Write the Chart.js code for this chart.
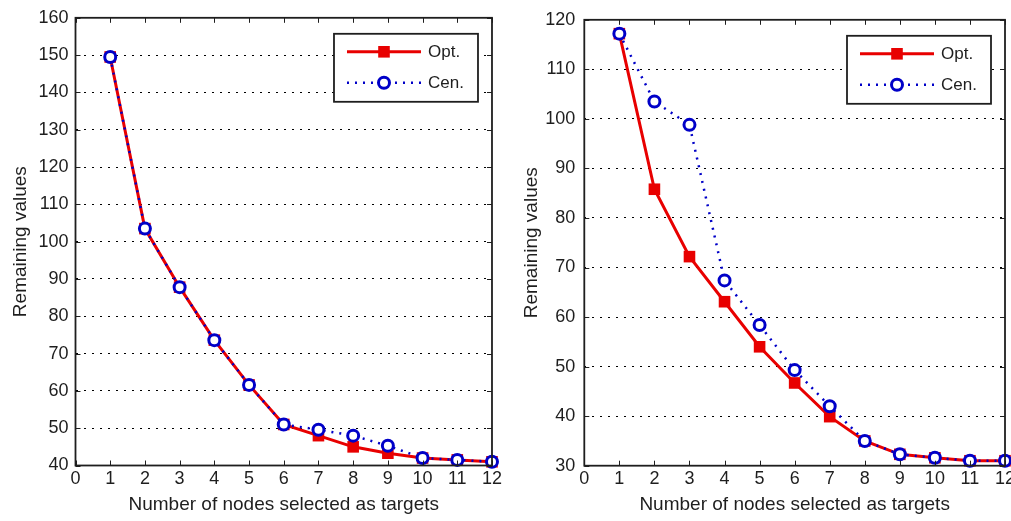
<!DOCTYPE html>
<html>
<head>
<meta charset="utf-8">
<script src="https://cdn.jsdelivr.net/npm/chart.js@4"></script>
<style>
  html, body { margin: 0; padding: 0; background: #fff; }
  #wrap { position: relative; width: 1011px; height: 521px; overflow: hidden; }
  canvas { position: absolute; top: 0; }
</style>
</head>
<body>
<div id="wrap">
  <canvas id="left" width="505" height="521" style="left:0"></canvas>
  <canvas id="right" width="536" height="521" style="left:505px"></canvas>
</div>
<script>
// nodes selected as targets
const nodes = [1, 2, 3, 4, 5, 6, 7, 8, 9, 10, 11, 12];

// left panel
const leftOpt = [149.5, 103.5, 87.8, 73.6, 61.6, 51, 48, 45, 43.3, 42, 41.5, 41];
const leftCen = [149.5, 103.5, 87.8, 73.6, 61.6, 51, 49.6, 48, 45.3, 42, 41.5, 41];

// right panel
const rightOpt = [117.2, 85.8, 72.2, 63.1, 54, 46.7, 39.9, 35, 32.3, 31.6, 31, 31];
const rightCen = [117.2, 103.5, 98.8, 67.4, 58.4, 49.3, 42, 35, 32.3, 31.6, 31, 31];

const seriesNames = ['Opt.', 'Cen.'];
const xTitle = 'Number of nodes selected as targets';
const yTitle = 'Remaining values';

const RED = '#e80000';
const BLUE = '#0000c8';
const INK = '#1e1e1e';
const FONT = 'Liberation Sans, Arial, sans-serif';

const toPoints = (ys) => nodes.map((x, i) => ({ x: x, y: ys[i] }));

// box around the axes + inward ticks, like matlab
const framePlugin = {
  id: 'frame',
  afterDraw(chart) {
    const { ctx, chartArea: a, scales } = chart;
    ctx.save();
    ctx.strokeStyle = INK;
    ctx.lineWidth = 1;
    ctx.beginPath();
    scales.x.ticks.forEach(t => {
      const px = Math.round(scales.x.getPixelForValue(t.value)) + 0.5;
      ctx.moveTo(px, a.bottom); ctx.lineTo(px, a.bottom - 5);
      ctx.moveTo(px, a.top); ctx.lineTo(px, a.top + 5);
    });
    scales.y.ticks.forEach(t => {
      const py = Math.round(scales.y.getPixelForValue(t.value)) + 0.5;
      ctx.moveTo(a.left, py); ctx.lineTo(a.left + 5, py);
      ctx.moveTo(a.right, py); ctx.lineTo(a.right - 5, py);
    });
    ctx.stroke();
    ctx.lineWidth = 1.8;
    ctx.strokeRect(a.left, a.top, a.right - a.left, a.bottom - a.top);
    ctx.restore();
  }
};

// legend box in the top right corner
const legendPlugin = {
  id: 'boxLegend',
  afterDraw(chart) {
    const { ctx, chartArea: a } = chart;
    const w = 144, h = 68;
    const bx = a.right - 14 - w, by = a.top + 16;
    ctx.save();
    ctx.fillStyle = '#fff';
    ctx.fillRect(bx, by, w, h);
    ctx.strokeStyle = INK;
    ctx.lineWidth = 1.8;
    ctx.strokeRect(bx, by, w, h);

    const rows = [by + 18, by + 49];
    const ds = chart.data.datasets;
    // legend order: Opt first, Cen second
    const byName = seriesNames.map(n => ds.find(d => d.label === n));
    byName.forEach((d, i) => {
      const y = rows[i];
      ctx.beginPath();
      ctx.strokeStyle = d.borderColor;
      ctx.lineWidth = d.borderWidth;
      ctx.setLineDash(d.borderDash || []);
      ctx.moveTo(bx + 13, y); ctx.lineTo(bx + 87, y);
      ctx.stroke();
      ctx.setLineDash([]);
      ctx.fillStyle = d.pointBackgroundColor;
      ctx.strokeStyle = d.pointBorderColor;
      ctx.lineWidth = d.pointBorderWidth;
      ctx.beginPath();
      if (d.pointStyle === 'rect') {
        const s = Math.SQRT1_2 * d.pointRadius;
        ctx.rect(bx + 50 - s, y - s, 2 * s, 2 * s);
      } else {
        ctx.arc(bx + 50, y, d.pointRadius, 0, Math.PI * 2);
      }
      ctx.fill();
      if (d.pointBorderWidth) ctx.stroke();
      ctx.fillStyle = INK;
      ctx.font = '17px ' + FONT;
      ctx.textBaseline = 'middle';
      ctx.fillText(d.label, bx + 94, y + 1);
    });
    ctx.restore();
  }
};

function makeChart(id, opt, cen, yMin, yMax, g) {
  return new Chart(document.getElementById(id), {
    type: 'line',
    data: {
      datasets: [
        {
          label: seriesNames[1],
          data: toPoints(cen),
          order: 0,
          borderColor: BLUE,
          borderWidth: 2.5,
          borderDash: [2, 6],
          pointStyle: 'circle',
          pointRadius: 5.5,
          pointBorderWidth: 3,
          pointBorderColor: BLUE,
          pointBackgroundColor: '#fff',
          clip: false
        },
        {
          label: seriesNames[0],
          data: toPoints(opt),
          order: 1,
          borderColor: RED,
          borderWidth: 3,
          pointStyle: 'rect',
          pointRadius: 8.2,
          pointBorderWidth: 0,
          pointBorderColor: RED,
          pointBackgroundColor: RED,
          clip: false
        }
      ]
    },
    options: {
      responsive: false,
      animation: false,
      layout: { padding: { top: g.top, right: g.right, bottom: 0, left: 0 } },
      plugins: { legend: { display: false }, tooltip: { enabled: false } },
      elements: { line: { tension: 0 } },
      scales: {
        x: {
          type: 'linear',
          min: 0, max: 12,
          ticks: { stepSize: 1, color: INK, padding: 3, font: { family: FONT, size: 18 }, maxRotation: 0 },
          grid: { display: false, drawTicks: false },
          border: { display: false },
          title: { display: true, text: xTitle, color: INK, font: { family: FONT, size: 19 }, padding: { top: 0, bottom: 5 } },
          afterFit(s) { s.height = g.xh; }
        },
        y: {
          min: yMin, max: yMax,
          ticks: { stepSize: 10, color: INK, padding: g.tickPad, font: { family: FONT, size: 18 } },
          grid: { color: '#000', lineWidth: 1, drawTicks: false },
          border: { display: false, dash: [2, 6] },
          title: { display: true, text: yTitle, color: INK, font: { family: FONT, size: 19 }, padding: { top: g.titlePad, bottom: 0 } },
          afterFit(s) { s.width = g.yw; }
        }
      }
    },
    plugins: [framePlugin, legendPlugin]
  });
}

makeChart('left', leftOpt, leftCen, 40, 160, { top: 15, right: 12.5, xh: 55.5, yw: 75.5, tickPad: 7, titlePad: 9 });
makeChart('right', rightOpt, rightCen, 30, 120, { top: 16.7, right: 36, xh: 55.3, yw: 79.3, tickPad: 9, titlePad: 15 });
</script>
</body>
</html>
